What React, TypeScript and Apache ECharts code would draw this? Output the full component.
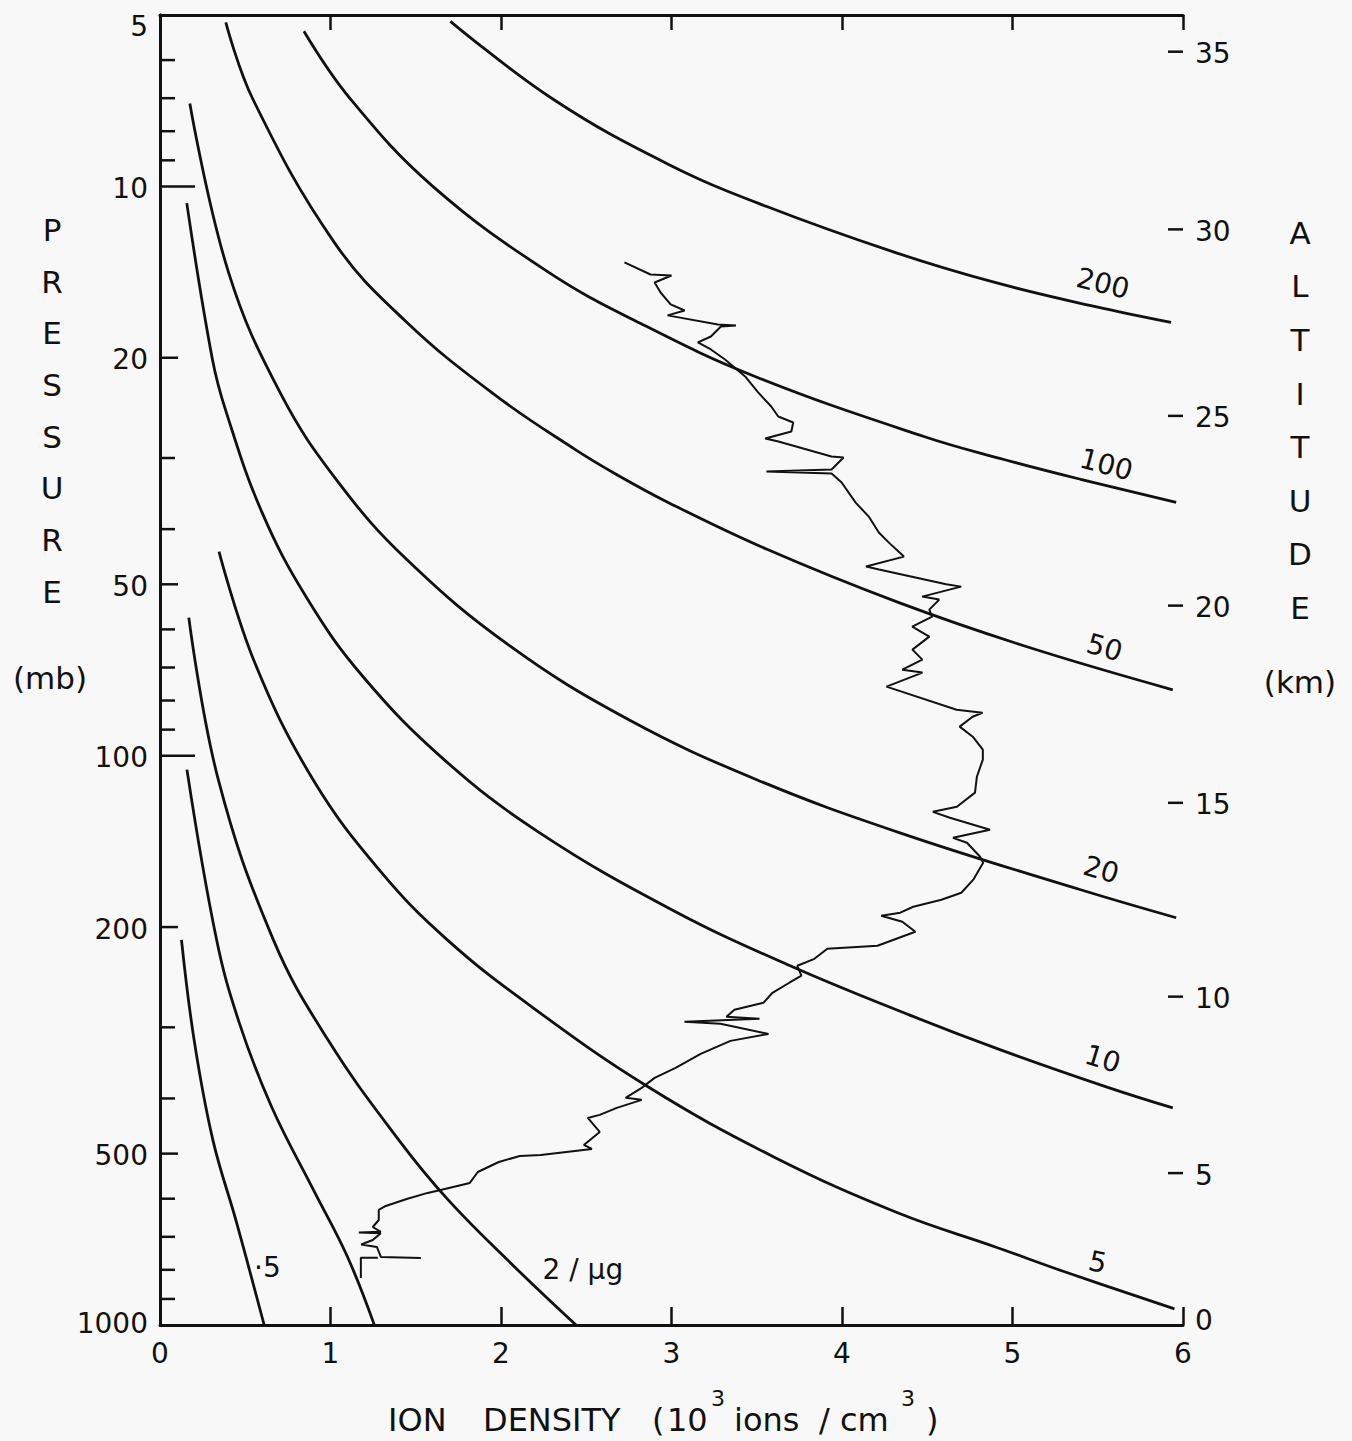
import React, { useEffect, useRef } from "react";
import * as echarts from "echarts";

// ---------- axes ----------
const pressureLabelValues = [5, 10, 20, 50, 100, 200, 500, 1000];
const pressureTickValues = [5, 6, 7, 8, 9, 10, 20, 30, 40, 50, 60, 70, 80, 90, 100, 200, 300, 400, 500, 600, 700, 800, 900];
const pressureLongTickValues = [10, 100];
const altitudeLabels = [0, 5, 10, 15, 20, 25, 30, 35];
const altitudePressures = [1000, 541, 265, 121, 54.5, 25.3, 11.9, 5.8];

// ---------- constant ions-per-microgram curves (x: 10^3 ions/cm3, p: mb) ----------
const curve200Pressure = [5.13, 7.03, 9.15, 10.85, 13.06, 14.75, 16.25, 17.34];
const curve200Density = [1.703, 2.306, 2.983, 3.559, 4.31, 4.897, 5.48, 5.93];

const curve100Pressure = [5.34, 7.03, 10.0, 14.16, 17.48, 21.57, 27.5, 30.18, 32.7, 35.9];
const curve100Density = [0.844, 1.118, 1.6, 2.28, 2.83, 3.49, 4.48, 4.95, 5.4, 5.96];

const curve50Pressure = [5.15, 7.03, 12.54, 17.2, 23.2, 29.0, 32.1, 35.9, 43.4, 53.8, 64.3, 76.6];
const curve50Density = [0.386, 0.545, 1.022, 1.436, 1.96, 2.436, 2.68, 2.98, 3.56, 4.33, 5.08, 5.94];

const curve20Pressure = [7.15, 14.16, 23.2, 33.0, 45.2, 64.1, 86.5, 110.2, 136.6, 172.0, 192.6];
const curve20Density = [0.175, 0.402, 0.71, 1.043, 1.446, 2.05, 2.75, 3.5, 4.34, 5.4, 5.96];

const curve10Pressure = [10.7, 20.1, 24.9, 37.3, 52.97, 72.6, 101.6, 136.6, 186.6, 233.9, 285.3, 328.6, 381.6, 415.6];
const curve10Density = [0.157, 0.307, 0.388, 0.597, 0.863, 1.19, 1.666, 2.227, 3.004, 3.696, 4.394, 4.93, 5.55, 5.94];

const curve5Pressure = [43.8, 68.9, 110.2, 160, 210.6, 276.1, 381.6, 506.7, 635.8, 729.3, 807.1, 937];
const curve5Density = [0.346, 0.558, 0.898, 1.296, 1.685, 2.18, 2.862, 3.6, 4.33, 4.9, 5.31, 5.95];

const curve2Pressure = [57.2, 110.2, 210.6, 315.6, 473.0, 602.9, 790.7, 1000];
const curve2Density = [0.169, 0.342, 0.665, 0.985, 1.4, 1.69, 2.08, 2.44];

const curve1Pressure = [105.8, 210.6, 294.6, 414, 579, 759.5, 1000];
const curve1Density = [0.158, 0.332, 0.465, 0.655, 0.9, 1.1, 1.257];

const curveHalfPressure = [210.6, 315.6, 473, 662, 1000];
const curveHalfDensity = [0.126, 0.2, 0.31, 0.45, 0.611];

// ---------- curve labels ----------
const curveLabelText = ["200", "100", "50", "20", "10", "5", "2 / \u03bcg", "\u00b75"];
const curveLabelDensity = [5.53, 5.55, 5.54, 5.52, 5.53, 5.5, 2.48, 0.63];
const curveLabelPressure = [14.81, 30.8, 64.6, 158.6, 340.8, 775, 800, 794];
const curveLabelAngle = [14, 15, 16, 16, 17, 12, 0, 0];

// ---------- measured ion density profile ----------
const profileDensity = [
  2.724, 2.877, 3.0, 2.901, 2.936, 2.995, 3.077, 2.977, 3.272, 3.378, 3.29, 3.231, 3.155, 3.231, 3.314,
  3.432, 3.508, 3.585, 3.626, 3.714, 3.703, 3.55, 3.627, 3.938, 4.009, 3.939, 3.557, 3.939, 3.998, 4.08,
  4.157, 4.216, 4.275, 4.363, 4.141, 4.217, 4.611, 4.699, 4.47, 4.57, 4.512, 4.529, 4.412, 4.512, 4.413,
  4.471, 4.354, 4.472, 4.261, 4.672, 4.824, 4.766, 4.69, 4.767, 4.826, 4.826, 4.791, 4.78, 4.674, 4.533,
  4.633, 4.868, 4.651, 4.733, 4.81, 4.828, 4.77, 4.7, 4.583, 4.418, 4.342, 4.23, 4.354, 4.43, 4.208,
  3.914, 3.838, 3.738, 3.762, 3.691, 3.592, 3.539, 3.369, 3.322, 3.516, 3.076, 3.287, 3.569, 3.346, 3.171,
  3.024, 2.901, 2.825, 2.731, 2.825, 2.679, 2.579, 2.509, 2.579, 2.486, 2.533, 2.233, 2.11, 1.987, 1.864,
  1.817, 1.67, 1.57, 1.447, 1.324, 1.283, 1.283, 1.248, 1.295, 1.166, 1.295, 1.248, 1.18, 1.272, 1.296,
  1.53,
];
const profilePressure = [
  13.6, 14.28, 14.34, 14.75, 15.36, 16.12, 16.52, 16.85, 17.48, 17.55, 17.62, 18.35, 18.8, 19.34, 20.14,
  21.57, 23.01, 24.36, 25.36, 25.99, 26.95, 27.73, 28.07, 29.82, 29.94, 31.43, 31.69, 31.95, 33.13, 35.93,
  38.02, 40.56, 42.24, 44.7, 46.54, 47.11, 50.0, 50.47, 52.55, 53.19, 55.39, 56.98, 59.34, 61.79, 65.12,
  67.81, 70.61, 71.46, 75.62, 83.04, 84.04, 85.42, 88.92, 92.6, 97.61, 101.6, 108.9, 116.1, 122.9, 125.5,
  128.5, 134.9, 139.4, 142.2, 150.5, 154.2, 165.1, 174.1, 179.1, 184.2, 188.7, 191.0, 195.7, 203.8, 215.7,
  218.4, 227.4, 233.9, 243.5, 250.5, 260.9, 271.7, 279.5, 287.5, 289.9, 293.4, 295.8, 308.1, 316.9, 334.0,
  353.5, 368.1, 383.2, 399.0, 402.3, 415.6, 427.5, 432.8, 458.0, 482.8, 490.7, 502.8, 505.0, 517.2, 538.6,
  563.0, 576.8, 586.1, 600.6, 617.9, 628.0, 654.0, 672.8, 686.0, 688.0, 690.0, 709.1, 722.0, 729.4, 759.6,
  763.0,
];
const markerDensity = [1.278, 1.178, 1.178];
const markerPressure = [762, 762, 827];

const FONT = "DejaVu Sans";
const INK = "#111";

const pairs = (xs: number[], ps: number[]) => xs.map((x, i) => [x, ps[i]]);

export default function App() {
  const ref = useRef<HTMLDivElement>(null);

  useEffect(() => {
    if (!ref.current) return;
    const chart = echarts.init(ref.current, undefined, { renderer: "svg" });

    const curves = [
      [curve200Density, curve200Pressure],
      [curve100Density, curve100Pressure],
      [curve50Density, curve50Pressure],
      [curve20Density, curve20Pressure],
      [curve10Density, curve10Pressure],
      [curve5Density, curve5Pressure],
      [curve2Density, curve2Pressure],
      [curve1Density, curve1Pressure],
      [curveHalfDensity, curveHalfPressure],
    ];

    const curveSeries = curves.map(([xs, ps]) => ({
      type: "line",
      data: pairs(xs, ps),
      showSymbol: false,
      smooth: 0.4,
      lineStyle: { color: INK, width: 2.8 },
      silent: true,
      z: 3,
    }));

    const titleText = (text: string, x: number, y: number, size = 32, extra: any = {}) => ({
      type: "text",
      x,
      y,
      style: {
        text,
        fill: INK,
        fontSize: size,
        fontFamily: FONT,
        align: "left",
        verticalAlign: "middle",
        ...extra,
      },
    });

    const option: any = {
      animation: false,
      backgroundColor: "#f8f8f8",
      grid: { left: 160, top: 15, width: 1023, height: 1310, show: false },
      xAxis: [
        {
          type: "value",
          min: 0,
          max: 6,
          interval: 1,
          position: "bottom",
          axisLine: { show: true, lineStyle: { color: INK, width: 3 } },
          axisTick: { show: true, inside: true, length: 18, lineStyle: { color: INK, width: 2.5 } },
          axisLabel: { color: INK, fontSize: 28, fontFamily: FONT, margin: 14 },
          splitLine: { show: false },
        },
        {
          type: "value",
          min: 0,
          max: 6,
          interval: 1,
          position: "top",
          axisLine: { show: true, lineStyle: { color: INK, width: 3 } },
          axisTick: { show: true, inside: true, length: 15, lineStyle: { color: INK, width: 2.5 } },
          axisLabel: { show: false },
          splitLine: { show: false },
        },
      ],
      yAxis: [
        {
          type: "log",
          logBase: 10,
          min: 5,
          max: 1000,
          inverse: true,
          position: "left",
          axisLine: { show: true, lineStyle: { color: INK, width: 3 } },
          axisTick: { show: false },
          axisLabel: { show: false },
          splitLine: { show: false },
        },
        {
          type: "log",
          logBase: 10,
          min: 5,
          max: 1000,
          inverse: true,
          position: "right",
          axisLine: { show: true, lineStyle: { color: INK, width: 3 } },
          axisTick: { show: false },
          axisLabel: { show: false },
          splitLine: { show: false },
        },
      ],
      series: [
        ...curveSeries,
        {
          type: "line",
          data: pairs(profileDensity, profilePressure),
          showSymbol: false,
          lineStyle: { color: INK, width: 2 },
          silent: true,
          z: 4,
        },
        {
          type: "line",
          data: pairs(markerDensity, markerPressure),
          showSymbol: false,
          lineStyle: { color: INK, width: 2 },
          silent: true,
          z: 4,
        },
        // pressure ticks (left axis)
        {
          type: "custom",
          clip: false,
          silent: true,
          z: 10,
          encode: { x: 0, y: 1 },
          data: pressureTickValues.map((p) => [0, p]),
          renderItem: (params: any, api: any) => {
            const p = api.value(1);
            const pt = api.coord([0, p]);
            const len = pressureLongTickValues.includes(p) ? 35 : pressureLabelValues.includes(p) ? 18 : 15;
            const children: any[] = [];
            if (p !== 5) {
              children.push({
                type: "line",
                shape: { x1: pt[0], y1: pt[1], x2: pt[0] + len, y2: pt[1] },
                style: { stroke: INK, lineWidth: 2.5 },
              });
            }
            return { type: "group", children };
          },
        },
        // pressure labels
        {
          type: "custom",
          clip: false,
          silent: true,
          z: 10,
          encode: { x: 0, y: 1 },
          data: pressureLabelValues.map((p) => [0, p]),
          renderItem: (params: any, api: any) => {
            const p = api.value(1);
            const pt = api.coord([0, p]);
            const dy = p === 5 ? 11 : p === 1000 ? -2 : 2;
            return {
              type: "text",
              x: pt[0] - 12,
              y: pt[1] + dy,
              style: {
                text: String(p),
                fill: INK,
                fontSize: 28,
                fontFamily: FONT,
                align: "right",
                verticalAlign: "middle",
              },
            };
          },
        },
        // altitude ticks and labels (right axis)
        {
          type: "custom",
          clip: false,
          silent: true,
          z: 10,
          encode: { x: 0, y: 1 },
          data: altitudePressures.map((p) => [6, p]),
          renderItem: (params: any, api: any) => {
            const i = params.dataIndex;
            const pt = api.coord([6, api.value(1)]);
            const children: any[] = [];
            if (i > 0) {
              children.push({
                type: "line",
                shape: { x1: pt[0] - 15, y1: pt[1], x2: pt[0], y2: pt[1] },
                style: { stroke: INK, lineWidth: 2.5 },
              });
            }
            children.push({
              type: "text",
              x: pt[0] + 12,
              y: pt[1] + (i === 0 ? -5 : 2),
              style: {
                text: String(altitudeLabels[i]),
                fill: INK,
                fontSize: 28,
                fontFamily: FONT,
                align: "left",
                verticalAlign: "middle",
              },
            });
            return { type: "group", children };
          },
        },
        // curve labels
        {
          type: "custom",
          clip: false,
          silent: true,
          z: 10,
          encode: { x: 0, y: 1 },
          data: pairs(curveLabelDensity, curveLabelPressure),
          renderItem: (params: any, api: any) => {
            const i = params.dataIndex;
            const pt = api.coord([api.value(0), api.value(1)]);
            return {
              type: "text",
              x: pt[0],
              y: pt[1],
              rotation: (-curveLabelAngle[i] * Math.PI) / 180,
              style: {
                text: curveLabelText[i],
                fill: INK,
                fontSize: 28,
                fontFamily: FONT,
                align: "center",
                verticalAlign: "middle",
              },
            };
          },
        },
      ],
      graphic: [
        {
          type: "text",
          x: 52,
          y: 204,
          style: {
            text: "P\nR\nE\nS\nS\nU\nR\nE",
            fill: INK,
            fontSize: 31,
            fontFamily: FONT,
            lineHeight: 51.7,
            align: "center",
            verticalAlign: "top",
          },
        },
        titleText("(mb)", 50, 678, 31, { align: "center" }),
        {
          type: "text",
          x: 1300,
          y: 206,
          style: {
            text: "A\nL\nT\nI\nT\nU\nD\nE",
            fill: INK,
            fontSize: 31,
            fontFamily: FONT,
            lineHeight: 53.6,
            align: "center",
            verticalAlign: "top",
          },
        },
        titleText("(km)", 1300, 682, 31, { align: "center" }),
        titleText("ION", 388, 1420),
        titleText("DENSITY", 483, 1420),
        titleText("(", 652, 1420),
        titleText("10", 667, 1420),
        titleText("3", 711, 1398, 22),
        titleText("ions", 734, 1420),
        titleText("/", 819, 1420),
        titleText("cm", 840, 1420),
        titleText("3", 901, 1398, 22),
        titleText(")", 926, 1420),
      ],
    };

    chart.setOption(option);
    return () => chart.dispose();
  }, []);

  return (
    <div
      ref={ref}
      style={{ position: "absolute", left: 0, top: 0, width: 1352, height: 1441 }}
    />
  );
}
